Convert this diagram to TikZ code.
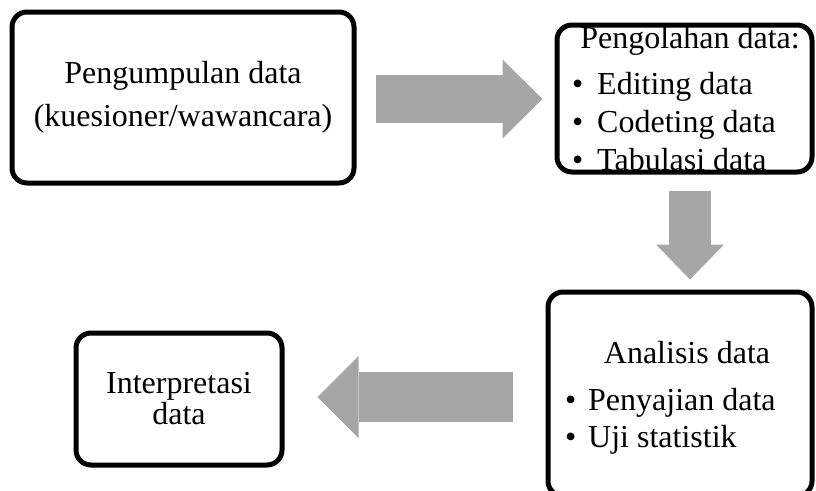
\documentclass[tikz,border=0pt]{standalone}
\usepackage{fontspec}
\setmainfont{Liberation Serif}
\usepackage{xcolor}
\usepackage{tikz}
\usetikzlibrary{arrows.meta}
\usetikzlibrary{calc}
\definecolor{arrowgray}{HTML}{A6A6A6}
\tikzstyle{box} = [rectangle, draw, line width=5pt, rounded corners=15pt, align=center, inner sep=0pt, font=\fontsize{32}{43}\selectfont]
\tikzstyle{txt} = [inner sep=0pt, font=\fontsize{32}{38}\selectfont]
\tikzstyle{flow} = [draw=arrowgray, line width=48pt]

\begin{document}
\begin{tikzpicture}[x=1pt, y=-1pt]
\useasboundingbox (0,0) rectangle (816,490);

% isi kotak pengolahan dan analisis (garis kotak menutupi teks)
\node [txt, anchor=base] (processhead) at (690,48) {Pengolahan data:};
\foreach \t [count=\i] in {Editing data, Codeting data, Tabulasi data}
  \node [txt, anchor=base west] (process\i) at (572,56+38*\i) {\makebox[25pt][l]{\textbullet}\t};
\node [txt, anchor=base] (analysehead) at (687,363) {Analisis data};
\foreach \t [count=\i] in {Penyajian data, Uji statistik}
  \node [txt, anchor=base west] (analyse\i) at (565,373+37*\i) {\makebox[23pt][l]{\textbullet}\t};

\node [box, minimum width=342pt, minimum height=171pt] (collect) at (183,97.5) {Pengumpulan data\\(kuesioner/wawancara)};
\node [box, minimum width=255pt, minimum height=147pt] (process) at (684.5,98.5) {};
\node [box, minimum width=264pt, minimum height=204pt] (analyse) at (680,394) {};
\node [box, minimum width=206pt, minimum height=132pt, font=\fontsize{32}{31}\selectfont] (interp) at (179,399) {Interpretasi\\data};

\draw [flow, -{Triangle[length=40pt, width=79pt, line width=0pt]}] ([xshift=19pt,yshift=-1.5pt]collect.east) -- ([xshift=-12pt,yshift=-0.5pt]process.west);
\draw [flow, line width=42pt, -{Triangle[length=35pt, width=68pt, line width=0pt]}] ([xshift=5.5pt,yshift=-16pt]process.south) -- ([xshift=10pt,yshift=10pt]analyse.north);
\draw [flow, line width=50pt, -{Triangle[length=41pt, width=82pt, line width=0pt]}] ([xshift=-33pt,yshift=-3pt]analyse.west) -- ([xshift=33pt,yshift=2pt]interp.east);

\end{tikzpicture}
\end{document}
